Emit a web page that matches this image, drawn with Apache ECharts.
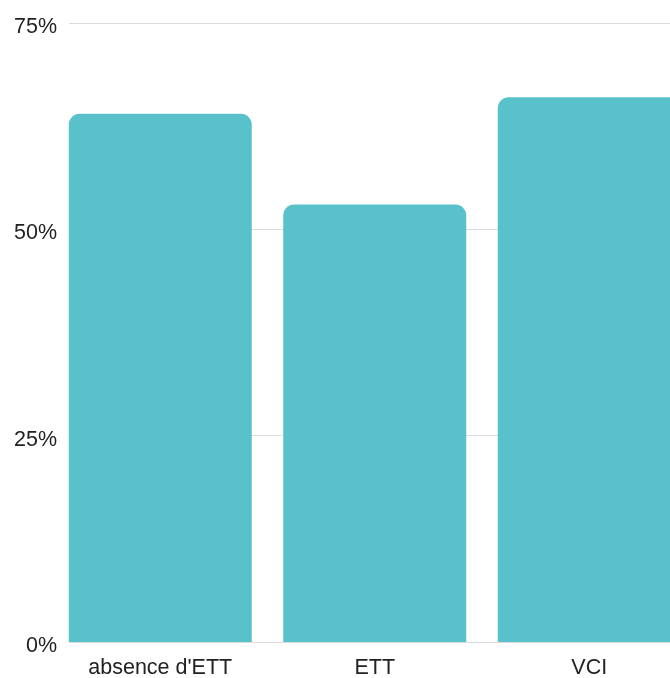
<!DOCTYPE html>
<html>
<head>
<meta charset="utf-8">
<script src="https://cdn.jsdelivr.net/npm/echarts@6/dist/echarts.min.js"></script>
<style>
html,body{margin:0;padding:0;background:#fff;}
#chart{width:670px;height:678px;}
</style>
</head>
<body>
<div id="chart"></div>
<script>
const categories = ["absence d'ETT", "ETT", "VCI"];
const values = [64, 53, 66];
const yTicks = [0, 25, 50, 75];

const chart = echarts.init(document.getElementById('chart'), null, {renderer: 'canvas'});
const font = '"Liberation Sans", Arial, sans-serif';
chart.setOption({
  animation: false,
  grid: [
    {left: 53, right: -26.5, top: 23, bottom: 36, outerBoundsMode: 'none', containLabel: false},
    {left: 69, right: -26.5, top: 23, bottom: 36, outerBoundsMode: 'none', containLabel: false}
  ],
  xAxis: [
    {
      type: 'category', gridIndex: 0, data: categories,
      axisLine: {show: false}, axisTick: {show: false},
      axisLabel: {fontSize: 21.5, color: '#222', fontFamily: font, margin: 15}
    },
    {type: 'category', gridIndex: 1, data: categories, show: false}
  ],
  yAxis: [
    {type: 'value', gridIndex: 0, min: yTicks[0], max: yTicks[yTicks.length-1], interval: 25, show: false},
    {
      type: 'value', gridIndex: 1, min: yTicks[0], max: yTicks[yTicks.length-1], interval: 25,
      axisLine: {show: false}, axisTick: {show: false},
      axisLabel: {
        formatter: function (v) { return '{v|' + v + '%}'; },
        margin: 12,
        rich: {v: {fontSize: 21.5, color: '#222', fontFamily: font, padding: [8, 0, 0, 0]}}
      },
      splitLine: {lineStyle: {color: '#dcdcdc', width: 1}}
    }
  ],
  series: [{
    type: 'bar', xAxisIndex: 0, yAxisIndex: 0,
    data: values, barWidth: 183,
    itemStyle: {color: '#58c1ca', borderRadius: [11, 11, 0, 0]}
  }]
});
</script>
</body>
</html>
